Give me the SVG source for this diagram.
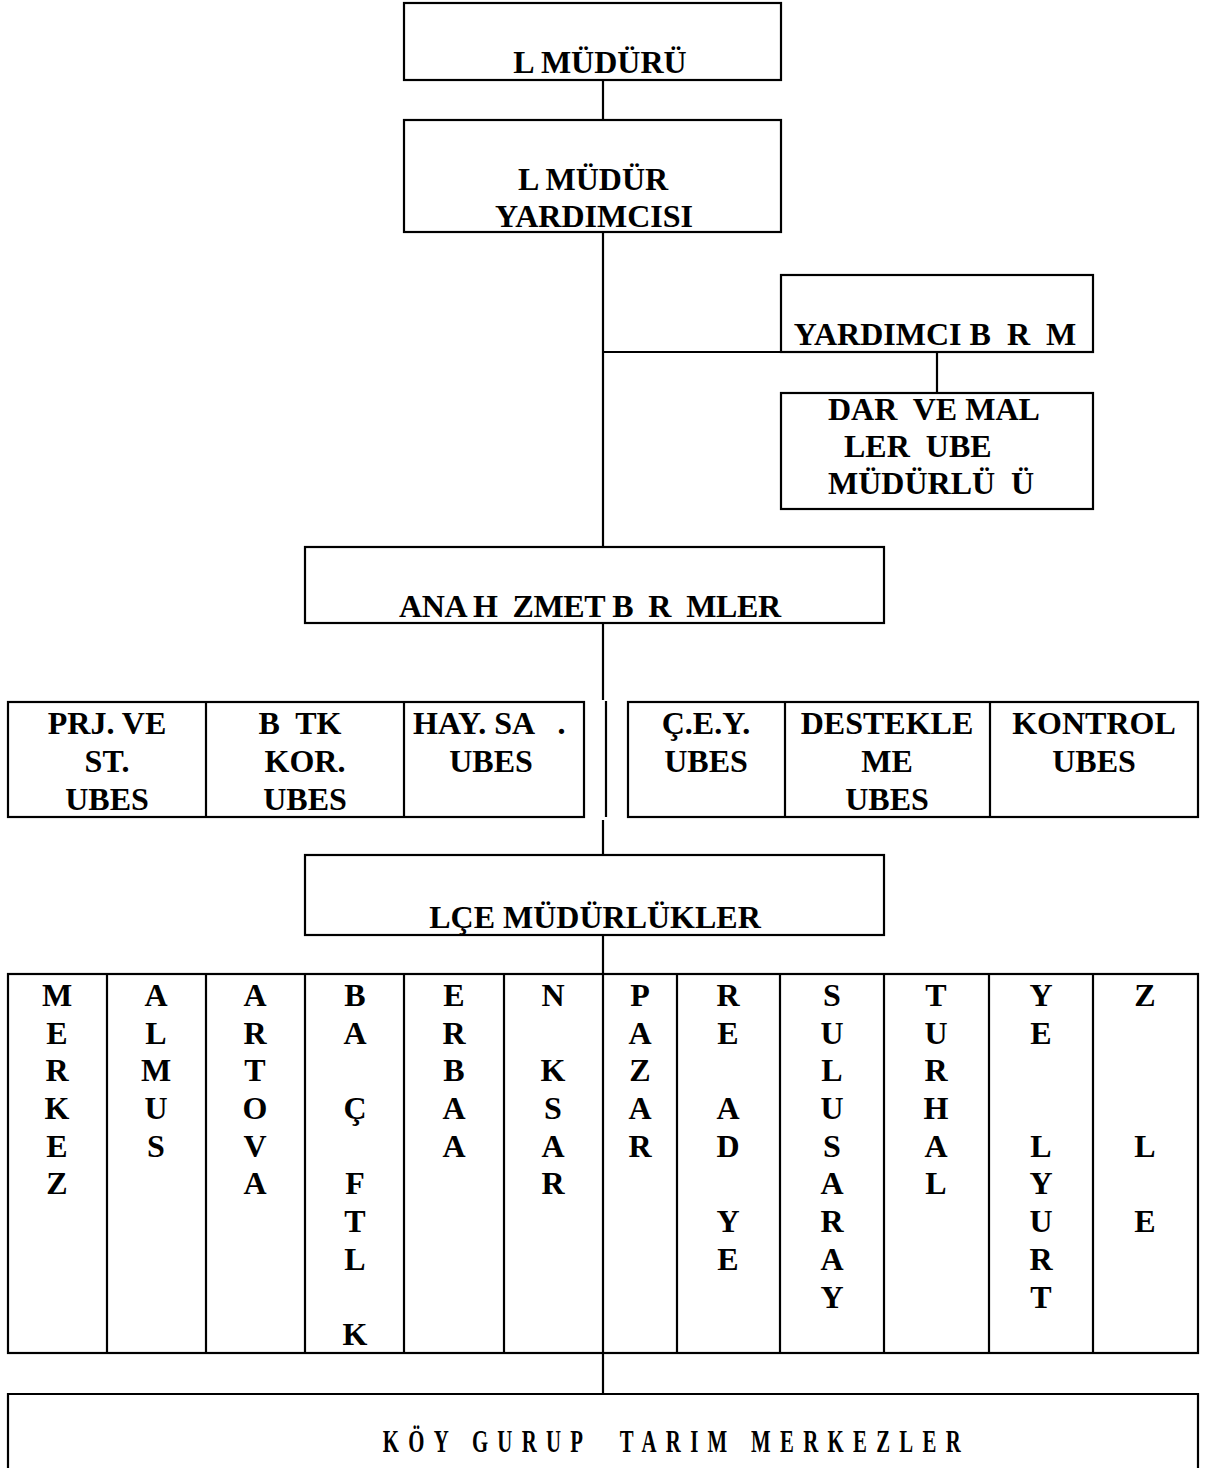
<svg xmlns="http://www.w3.org/2000/svg" width="1205" height="1468" viewBox="0 0 1205 1468">
<style>
.box{fill:#fff;stroke:#000;stroke-width:2.2}
.ln{fill:none;stroke:#000;stroke-width:2.2}
text{font-family:"Liberation Serif","Times New Roman",serif;font-weight:bold;font-size:32px;fill:#000;white-space:pre}
.m{text-anchor:middle}
</style>
<rect width="1205" height="1468" fill="#fff"/>
<g id="connectors">
<path class="ln" d="M603 80V120M603 232V547M603 352H781M937 352V393M603 623V700M606 701V817M603 820V855M603 935V974M603 1353V1394"/>
</g>
<g id="il-muduru">
<rect class="box" x="404" y="3" width="377" height="77"/>
<text class="m" x="600" y="73">L MÜDÜRÜ</text>
</g>
<g id="il-mudur-yardimcisi">
<rect class="box" x="404" y="120" width="377" height="112"/>
<text class="m" x="593" y="190">L MÜDÜR</text>
<text class="m" x="594" y="227">YARDIMCISI</text>
</g>
<g id="yardimci-birimi">
<rect class="box" x="781" y="275" width="312" height="77"/>
<text class="m" x="935" y="345">YARDIMCI B  R  M</text>
</g>
<g id="idari-mali">
<rect class="box" x="781" y="393" width="312" height="116"/>
<text x="828" y="420">DAR  VE MAL</text>
<text x="844" y="457">LER  UBE</text>
<text x="828" y="494">MÜDÜRLÜ  Ü</text>
</g>
<g id="ana-hizmet">
<rect class="box" x="305" y="547" width="579" height="76"/>
<text x="399" y="617" textLength="382" lengthAdjust="spacing">ANA H  ZMET B  R  MLER</text>
</g>
<g id="subeler-sol">
<rect class="box" x="8" y="702" width="576" height="115"/>
<path class="ln" d="M206 702V817M404 702V817"/>
<text class="m" x="107" y="734">PRJ. VE</text>
<text class="m" x="107" y="772">ST.</text>
<text class="m" x="107" y="810">UBES</text>
<text class="m" x="300" y="734">B  TK</text>
<text class="m" x="305" y="772">KOR.</text>
<text class="m" x="305" y="810">UBES</text>
<text x="413" y="734">HAY. SA   .</text>
<text class="m" x="491" y="772">UBES</text>
</g>
<g id="subeler-sag">
<rect class="box" x="628" y="702" width="570" height="115"/>
<path class="ln" d="M785 702V817M990 702V817"/>
<text class="m" x="706" y="734">Ç.E.Y.</text>
<text class="m" x="706" y="772">UBES</text>
<text class="m" x="887" y="734">DESTEKLE</text>
<text class="m" x="887" y="772">ME</text>
<text class="m" x="887" y="810">UBES</text>
<text class="m" x="1094" y="734">KONTROL</text>
<text class="m" x="1094" y="772">UBES</text>
</g>
<g id="ilce-mudurlukleri">
<rect class="box" x="305" y="855" width="579" height="80"/>
<text class="m" x="595" y="928">LÇE MÜDÜRLÜKLER</text>
</g>
<g id="ilceler">
<rect class="box" x="8" y="974" width="1190" height="379"/>
<path class="ln" d="M107 974V1353M206 974V1353M305 974V1353M404 974V1353M504 974V1353M603 974V1353M677 974V1353M780 974V1353M884 974V1353M989 974V1353M1093 974V1353"/>
<g class="m">
<text class="m" x="57" y="1006">M</text><text class="m" x="57" y="1044">E</text><text class="m" x="57" y="1081">R</text><text class="m" x="57" y="1119">K</text><text class="m" x="57" y="1157">E</text><text class="m" x="57" y="1194">Z</text>
<text class="m" x="156" y="1006">A</text><text class="m" x="156" y="1044">L</text><text class="m" x="156" y="1081">M</text><text class="m" x="156" y="1119">U</text><text class="m" x="156" y="1157">S</text>
<text class="m" x="255" y="1006">A</text><text class="m" x="255" y="1044">R</text><text class="m" x="255" y="1081">T</text><text class="m" x="255" y="1119">O</text><text class="m" x="255" y="1157">V</text><text class="m" x="255" y="1194">A</text>
<text class="m" x="355" y="1006">B</text><text class="m" x="355" y="1044">A</text><text class="m" x="355" y="1119">Ç</text><text class="m" x="355" y="1194">F</text><text class="m" x="355" y="1232">T</text><text class="m" x="355" y="1270">L</text><text class="m" x="355" y="1345">K</text>
<text class="m" x="454" y="1006">E</text><text class="m" x="454" y="1044">R</text><text class="m" x="454" y="1081">B</text><text class="m" x="454" y="1119">A</text><text class="m" x="454" y="1157">A</text>
<text class="m" x="553" y="1006">N</text><text class="m" x="553" y="1081">K</text><text class="m" x="553" y="1119">S</text><text class="m" x="553" y="1157">A</text><text class="m" x="553" y="1194">R</text>
<text class="m" x="640" y="1006">P</text><text class="m" x="640" y="1044">A</text><text class="m" x="640" y="1081">Z</text><text class="m" x="640" y="1119">A</text><text class="m" x="640" y="1157">R</text>
<text class="m" x="728" y="1006">R</text><text class="m" x="728" y="1044">E</text><text class="m" x="728" y="1119">A</text><text class="m" x="728" y="1157">D</text><text class="m" x="728" y="1232">Y</text><text class="m" x="728" y="1270">E</text>
<text class="m" x="832" y="1006">S</text><text class="m" x="832" y="1044">U</text><text class="m" x="832" y="1081">L</text><text class="m" x="832" y="1119">U</text><text class="m" x="832" y="1157">S</text><text class="m" x="832" y="1194">A</text><text class="m" x="832" y="1232">R</text><text class="m" x="832" y="1270">A</text><text class="m" x="832" y="1308">Y</text>
<text class="m" x="936" y="1006">T</text><text class="m" x="936" y="1044">U</text><text class="m" x="936" y="1081">R</text><text class="m" x="936" y="1119">H</text><text class="m" x="936" y="1157">A</text><text class="m" x="936" y="1194">L</text>
<text class="m" x="1041" y="1006">Y</text><text class="m" x="1041" y="1044">E</text><text class="m" x="1041" y="1157">L</text><text class="m" x="1041" y="1194">Y</text><text class="m" x="1041" y="1232">U</text><text class="m" x="1041" y="1270">R</text><text class="m" x="1041" y="1308">T</text>
<text class="m" x="1145" y="1006">Z</text><text class="m" x="1145" y="1157">L</text><text class="m" x="1145" y="1232">E</text>
</g>
</g>
<g id="koy-gurup">
<path class="ln" d="M8 1480V1394H1198V1480"/>
<text transform="scale(0.65,1)" x="589" y="1452" textLength="889" lengthAdjust="spacing">KÖY GURUP  TARIM MERKEZLER</text>
</g>
</svg>
